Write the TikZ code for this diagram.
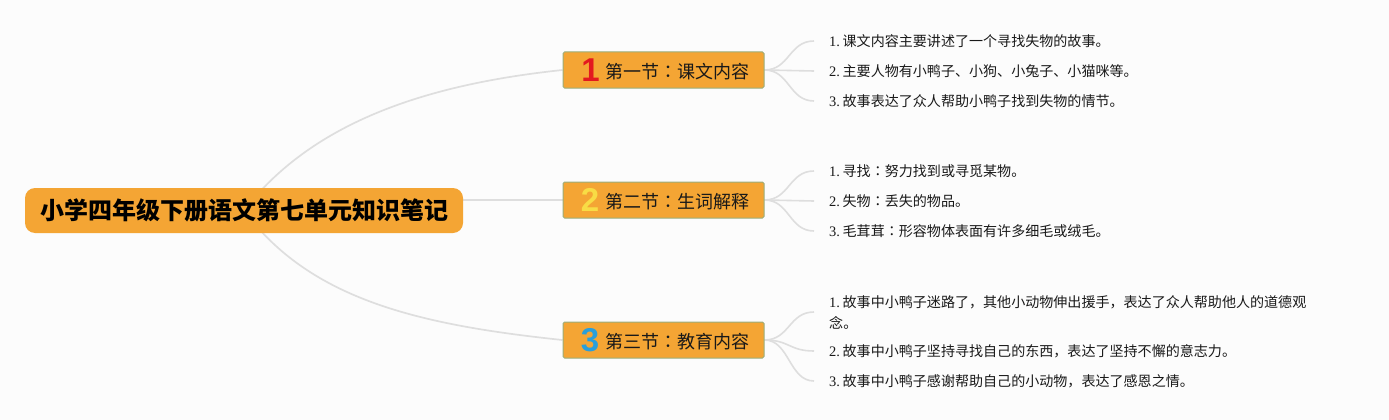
\documentclass[tikz,border=0pt]{standalone}
\usepackage{fontspec}
\setmainfont{Noto Sans CJK SC}
\newfontfamily\ser{Liberation Serif}
\newfontfamily\numf{Liberation Sans}
\newfontfamily\tcf{Noto Sans CJK TC}
\newcommand{\cln}{{\tcf ：}}
\newcommand{\lnum}[1]{{\ser\fontsize{14.5}{21}\selectfont #1.\kern2.6pt}}
\usetikzlibrary{backgrounds,calc}
\definecolor{paper}{HTML}{FCFCFC}
\definecolor{orangefill}{HTML}{F4A534}
\definecolor{boxedge}{HTML}{9AAE7C}
\definecolor{linkc}{HTML}{DEDEDE}
\definecolor{numred}{HTML}{E3191F}
\definecolor{numyellow}{HTML}{F8DC45}
\definecolor{numblue}{HTML}{2A9FDB}
\tikzset{
  x=1pt,y=-1pt,
  rootbox/.style={fill=orangefill,rounded corners=10pt,minimum width=438pt,minimum height=45pt,inner sep=0pt,font=\fontsize{24}{24}\selectfont\bfseries,text=black},
  branchbox/.style={fill=orangefill,draw=boxedge,line width=1pt,rounded corners=1.5pt,minimum width=201pt,minimum height=36pt,inner sep=0pt},
  branchtext/.style={font=\fontsize{18}{18}\selectfont,text=black!90,inner sep=0pt,anchor=west},
  numeral/.style={font=\numf\fontsize{33}{33}\selectfont\bfseries,inner sep=0pt},
  leaf/.style={anchor=west,inner xsep=15pt,inner ysep=0pt,font=\fontsize{14.05}{21}\selectfont,text=black!90,align=left},
  link/.style={draw=linkc,line width=1.7pt},
  sublink/.style={draw=linkc,line width=1.6pt},
}
\begin{document}
\begin{tikzpicture}
\useasboundingbox (0,0) rectangle (1389,420);
\node[rootbox] (root) at (244,210.5) {小学四年级下册语文第七单元知识笔记};
\node[branchbox] (b1) at (663.5,70) {};
\node[branchbox] (b2) at (663.5,200) {};
\node[branchbox] (b3) at (663.5,340) {};
\node[numeral,text=numred] (n1) at (590.5,70) {1};
\node[numeral,text=numyellow] (n2) at (590,200) {2};
\node[numeral,text=numblue] (n3) at (590,340) {3};
\node[branchtext] (t1) at (605,72) {第一节\cln 课文内容};
\node[branchtext] (t2) at (605,202) {第二节\cln 生词解释};
\node[branchtext] (t3) at (605,342) {第三节\cln 教育内容};
\node[leaf] (l11) at (814,41) {\lnum{1}课文内容主要讲述了一个寻找失物的故事。};
\node[leaf] (l12) at (814,71) {\lnum{2}主要人物有小鸭子、小狗、小兔子、小猫咪等。};
\node[leaf] (l13) at (814,101) {\lnum{3}故事表达了众人帮助小鸭子找到失物的情节。};
\node[leaf] (l21) at (814,171) {\lnum{1}寻找\cln 努力找到或寻觅某物。};
\node[leaf] (l22) at (814,201) {\lnum{2}失物\cln 丢失的物品。};
\node[leaf] (l23) at (814,231) {\lnum{3}毛茸茸\cln 形容物体表面有许多细毛或绒毛。};
\node[leaf] (l31) at (814,312) {\lnum{1}故事中小鸭子迷路了，其他小动物伸出援手，表达了众人帮助他人的道德观\\念。};
\node[leaf] (l32) at (814,351) {\lnum{2}故事中小鸭子坚持寻找自己的东西，表达了坚持不懈的意志力。};
\node[leaf] (l33) at (814,381) {\lnum{3}故事中小鸭子感谢帮助自己的小动物，表达了感恩之情。};
\begin{scope}[on background layer]
\fill[paper] (0,0) rectangle (1389,420);
\draw[link] (root.center) .. controls (310,125) and (420,85) .. (b1.west);
\draw[link] (root.east |- b2.west) -- (b2.west);
\draw[link] (root.center) .. controls (310,300) and (420,325) .. (b3.west);
\foreach \b/\l in {b1/l11,b1/l13,b2/l21,b2/l23,b3/l31,b3/l32,b3/l33}{
  \draw[sublink] (\b.east) .. controls ($(\b.east)+(25,0)$) and ($(\l.west)+(-25,0)$) .. (\l.west);
}
\draw[sublink] (b1.east) -- (l12.west);
\draw[sublink] (b2.east) -- (l22.west);
\end{scope}
\end{tikzpicture}
\end{document}
